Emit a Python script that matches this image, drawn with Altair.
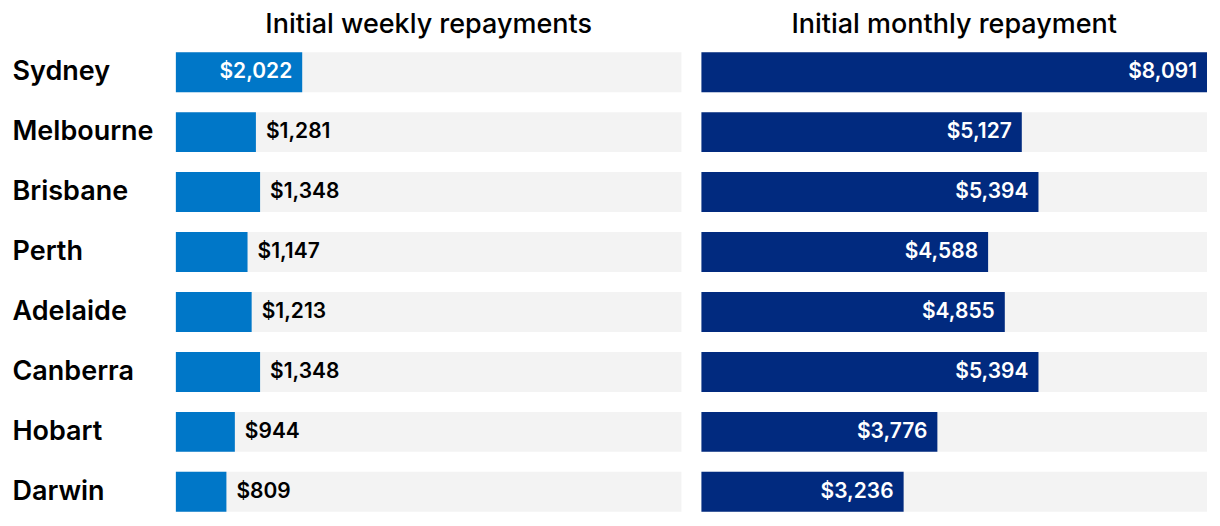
import altair as alt
import pandas as pd

cities = ["Sydney", "Melbourne", "Brisbane", "Perth", "Adelaide", "Canberra", "Hobart", "Darwin"]
weekly = [2022, 1281, 1348, 1147, 1213, 1348, 944, 809]
monthly = [8091, 5127, 5394, 4588, 4855, 5394, 3776, 3236]
titles = ["Initial weekly repayments", "Initial monthly repayment"]

xmax = max(monthly)
df = pd.DataFrame({"city": cities, "weekly": weekly, "monthly": monthly, "full": [xmax] * len(cities)})

FONT = "Inter"


def panel(field, color, title, show_axis):
    if show_axis:
        yaxis = alt.Axis(title=None, domain=False, ticks=False, labelAlign="left", labelPadding=164,
                         labelFontSize=27, labelFont=FONT, labelFontWeight=600, labelColor="#000000",
                         labelLimit=300)
    else:
        yaxis = None
    base = alt.Chart(df).encode(
        y=alt.Y("city:N", sort=None, axis=yaxis,
                scale=alt.Scale(paddingInner=1 / 3, paddingOuter=1 / 6))
    )
    xs = alt.Scale(domain=[0, xmax], nice=False)
    bg = base.mark_bar(color="#f3f3f3").encode(x=alt.X("full:Q", scale=xs, axis=None))
    bar = base.mark_bar(color=color).encode(x=alt.X(f"{field}:Q", scale=xs, axis=None))
    thr = 0.2 * xmax
    t_in = base.transform_filter(f"datum.{field} > {thr}").mark_text(
        align="right", dx=-10, color="white", fontSize=21, font=FONT, fontWeight=600, baseline="middle"
    ).encode(x=alt.X(f"{field}:Q", scale=xs, axis=None), text=alt.Text(f"{field}:Q", format="$,.0f"))
    t_out = base.transform_filter(f"datum.{field} <= {thr}").mark_text(
        align="left", dx=10, color="black", fontSize=21, font=FONT, fontWeight=600, baseline="middle"
    ).encode(x=alt.X(f"{field}:Q", scale=xs, axis=None), text=alt.Text(f"{field}:Q", format="$,.0f"))
    return alt.layer(bg, bar, t_in, t_out).properties(
        width=506, height=480,
        title=alt.TitleParams(title, fontSize=27, font=FONT, fontWeight=500, anchor="middle",
                              color="#000000", offset=3),
    )


chart = alt.hconcat(
    panel("weekly", "#0077c8", titles[0], True),
    panel("monthly", "#012a7f", titles[1], False),
    spacing=20,
).properties(padding={"left": 4, "top": 3, "right": 5, "bottom": 5}).configure_view(stroke=None)

chart.save("out.html", embed_options={"renderer": "svg", "actions": False})
